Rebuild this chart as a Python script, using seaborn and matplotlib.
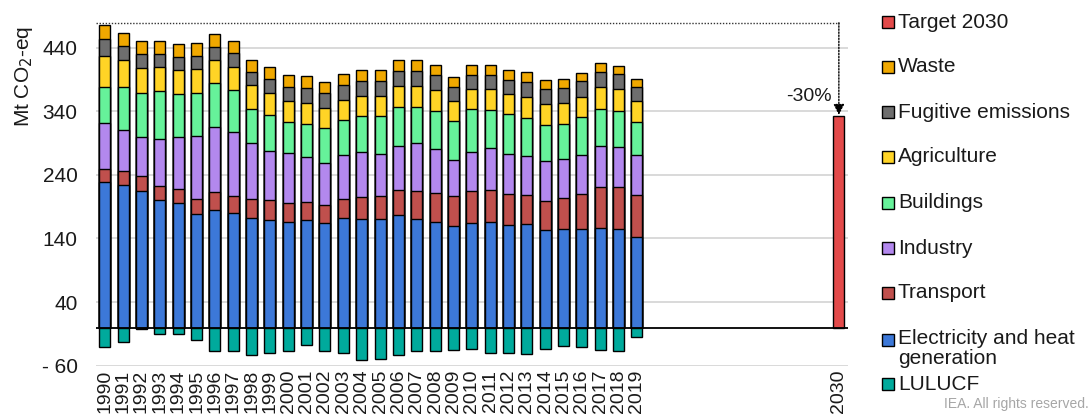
import numpy as np
import matplotlib
matplotlib.use("Agg")
import matplotlib.pyplot as plt
import seaborn as sns
from matplotlib.patches import Rectangle

# ---------------- data (Mt CO2-eq) ----------------
years = list(range(1990, 2020))
electricity = [228.3, 223.6, 215.2, 200.6, 195.3, 178.6, 184.9, 179.7, 172.4, 168.7,
               166.1, 168.7, 164.5, 172.4, 170.8, 170.8, 176.5, 170.8, 165.6, 159.8,
               165.0, 166.1, 161.9, 163.0, 153.6, 155.1, 155.1, 156.7, 155.1, 142.1]
transport = [20.9, 21.9, 22.5, 22.4, 23.0, 24.1, 27.7, 27.7, 30.3, 32.4,
             30.3, 29.3, 27.7, 30.3, 34.5, 36.1, 39.8, 43.9, 46.5, 46.5,
             49.7, 49.6, 48.1, 44.9, 46.0, 48.1, 54.9, 63.8, 65.4, 66.9]
industry = [72.1, 65.3, 61.1, 73.7, 81.0, 98.7, 102.9, 100.3, 86.7, 76.3,
            77.8, 70.5, 65.8, 68.4, 70.5, 66.3, 68.4, 75.2, 68.4, 57.0,
            61.1, 66.4, 62.7, 62.2, 62.6, 61.7, 61.1, 64.7, 63.7, 62.7]
buildings = [56.4, 66.9, 70.0, 74.7, 67.9, 66.9, 68.5, 65.8, 54.8, 56.4,
             48.6, 51.7, 55.4, 54.9, 56.5, 58.5, 61.7, 56.5, 59.6, 60.6,
             67.4, 60.1, 62.2, 59.5, 56.0, 54.8, 59.1, 58.6, 55.9, 51.7]
agriculture = [49.1, 42.3, 38.7, 37.7, 37.1, 37.6, 36.0, 36.1, 36.6, 35.0,
               33.5, 32.9, 31.9, 31.8, 31.3, 31.4, 32.4, 33.4, 33.4, 32.4,
               31.9, 32.4, 31.8, 33.0, 32.9, 32.4, 32.4, 33.9, 35.0, 32.4]
fugitive = [27.2, 22.5, 22.4, 20.8, 20.9, 21.4, 21.4, 22.4, 21.4, 22.0,
            21.4, 23.5, 22.5, 23.5, 23.5, 24.0, 24.5, 23.5, 24.1, 21.4,
            21.9, 22.4, 23.0, 24.0, 23.5, 24.6, 24.5, 24.6, 23.5, 21.9]
waste = [21.9, 20.9, 20.9, 20.9, 20.4, 19.9, 19.4, 18.8, 18.3, 18.2,
         18.8, 18.3, 17.7, 17.8, 17.3, 17.3, 16.7, 16.7, 15.6, 16.7,
         16.2, 15.2, 14.7, 14.6, 14.1, 13.6, 13.6, 13.0, 13.1, 13.1]
lulucf = [-30.3, -23.5, -2.6, -9.4, -9.4, -19.9, -37.6, -37.6, -42.8, -40.2,
          -36.6, -28.2, -37.6, -39.7, -51.2, -50.2, -43.9, -37.6, -37.1, -35.5,
          -34.0, -40.8, -40.2, -42.3, -34.0, -28.7, -30.8, -35.5, -36.6, -14.6]
target_year = 2030
target_value = 333.0
ytick_values = [-60, 40, 140, 240, 340, 440]

sector_names = ["Electricity and heat\ngeneration", "Transport", "Industry",
                "Buildings", "Agriculture", "Fugitive emissions", "Waste"]
sector_values = [electricity, transport, industry, buildings, agriculture, fugitive, waste]
sector_colors = ["#3C78D8", "#C0504D", "#B388EE", "#66F29A", "#FFD426", "#6E6E6E", "#F0A800"]
lulucf_color = "#00AA9C"
target_color = "#E34A4A"

# ---------------- style ----------------
sns.set_theme(style="white")
plt.rcParams["font.family"] = ["Liberation Sans", "DejaVu Sans"]

W, H = 1091, 416
fig = plt.figure(figsize=(W / 100, H / 100), dpi=100)
ax = fig.add_axes([0.0876, 0.1209, 0.6897, 0.8413])

bar_kw = dict(native_scale=True, width=0.6, saturation=1, errorbar=None,
              edgecolor="black", linewidth=1.0, ax=ax)

# stacked bars: draw cumulative totals from top layer down
cum = np.cumsum(np.array(sector_values), axis=0)
for i in range(len(sector_values) - 1, -1, -1):
    sns.barplot(x=years, y=cum[i], color=sector_colors[i], zorder=2, **bar_kw)

sns.barplot(x=years, y=lulucf, color=lulucf_color, zorder=2, **bar_kw)
sns.barplot(x=[target_year], y=[target_value], color=target_color, zorder=2, **bar_kw)

# axes formatting
ax.set_xlim(years[0] - 0.5, target_year + 0.5)
ax.set_ylim(-60, 490)
ax.set_yticks(ytick_values)
ax.set_yticklabels([f"- {abs(v)}" if v < 0 else f"{v}" for v in ytick_values], fontsize=15)
xt = years + [target_year]
ax.set_xticks(xt)
ax.set_xticklabels([str(y) for y in xt], rotation=90, fontsize=14)
ax.tick_params(axis="y", length=0, pad=13, colors="#1a1a1a")
ax.tick_params(axis="x", length=0, pad=3, colors="#1a1a1a")
ax.grid(axis="y", color="#d9d9d9", linewidth=1.4)
ax.grid(axis="x", visible=False)
ax.set_axisbelow(True)
for s in ax.spines.values():
    s.set_visible(False)
ax.axhline(0, color="black", linewidth=1.3, zorder=4)
ax.set_xlabel("")
ax.set_ylabel("Mt CO$_2$-eq", fontsize=15, color="#1a1a1a")
ax.yaxis.set_label_coords(-0.08, 0.828)

# target annotation
total_1990 = cum[-1][0]
line_y = total_1990 + 3
ax.plot([years[0] - 0.5, target_year], [line_y, line_y], linestyle=(0, (1, 1.2)),
        color="#333333", linewidth=1, zorder=3)
ax.annotate("", xy=(target_year, target_value + 1), xytext=(target_year, line_y),
            arrowprops=dict(arrowstyle="-|>", color="black", lw=1, linestyle=(0, (1, 1.2)),
                            mutation_scale=16, shrinkA=0, shrinkB=0), zorder=3)
pct = (target_value / total_1990 - 1) * 100
ax.text(target_year - 0.4, 363, f"{pct:.0f}%", ha="right", va="center", fontsize=14,
        color="#1a1a1a")

# legend (entries laid out as in the original, in pixel positions)
legend_labels = ["Target 2030"] + sector_names[::-1] + ["LULUCF"]
legend_colors = [target_color] + sector_colors[::-1] + [lulucf_color]
legend_y_px = [22, 67, 112, 157, 203, 248, 293, 340, 384]
box_x0, box = 882, 11.5
for lab, col, ypx in zip(legend_labels, legend_colors, legend_y_px):
    fig.add_artist(Rectangle(((box_x0) / W, 1 - (ypx + box / 2) / H), box / W, box / H,
                             facecolor=col, edgecolor="black", linewidth=1,
                             transform=fig.transFigure))
    if "\n" in lab:
        fig.text(898 / W, 1 - (ypx - 11) / H, lab, ha="left", va="top", fontsize=15,
                 color="#1a1a1a", linespacing=1.08)
    else:
        fig.text(898 / W, 1 - ypx / H, lab, ha="left", va="center", fontsize=15,
                 color="#1a1a1a")

fig.text(0.998, 0.012, "IEA. All rights reserved.", ha="right", va="bottom",
         fontsize=10, color="#a6a6a6")

fig.savefig("out.png", dpi=100)
